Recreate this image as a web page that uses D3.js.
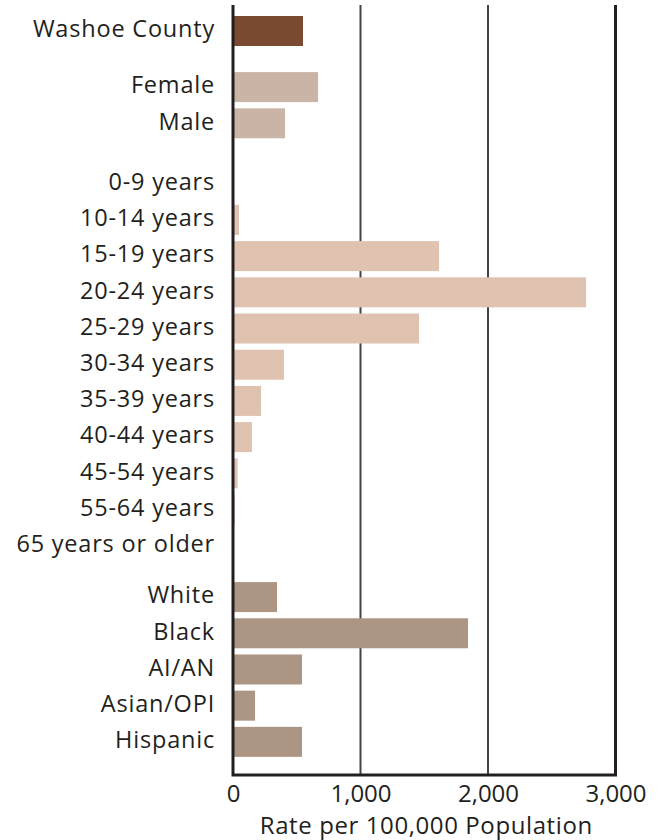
<!DOCTYPE html>
<html>
<head>
<meta charset="utf-8">
<script src="https://d3js.org/d3.v7.min.js"></script>
<style>
  body { margin: 0; background: #fff; }
  text { font-family: "Open Sans", "DejaVu Sans", sans-serif; fill: #231f20; }
</style>
</head>
<body>
<script>
// data
var groups = ["total", "sex", "age", "race"];
var categories = ["Washoe County",
  "Female", "Male",
  "0-9 years", "10-14 years", "15-19 years", "20-24 years", "25-29 years", "30-34 years",
  "35-39 years", "40-44 years", "45-54 years", "55-64 years", "65 years or older",
  "White", "Black", "AI/AN", "Asian/OPI", "Hispanic"];
var categoryGroup = ["total",
  "sex", "sex",
  "age", "age", "age", "age", "age", "age", "age", "age", "age", "age", "age",
  "race", "race", "race", "race", "race"];
var rates = [549,
  667, 408,
  0, 47, 1616, 2769, 1459, 400, 220, 149, 36, 14, 0,
  345, 1843, 541, 173, 541];
var xTicks = [0, 1000, 2000, 3000];
var xTitle = "Rate per 100,000 Population";

var groupColor = { total: "#7a4a32", sex: "#cab4a6", age: "#e0c2b1", race: "#ad9584" };
// extra vertical space before each group (in row units)
var groupGap = { total: 0, sex: 0.55, age: 0.67, race: 0.42 };

var w = 672, h = 840;
var plotLeft = 233, plotRight = 615.5, plotTop = 5, plotBottom = 775;

var rows = [];
var gapSum = 0;
categories.forEach(function (c, i) {
  if (i > 0 && categoryGroup[i] !== categoryGroup[i - 1]) gapSum += groupGap[categoryGroup[i]];
  rows.push({ name: c, value: rates[i], group: categoryGroup[i], pos: i + gapSum });
});

var x = d3.scaleLinear().domain([0, 3000]).range([plotLeft, plotRight]);
var y = d3.scaleLinear().domain([-0.304, 20.97]).range([plotTop, plotBottom]);
var barH = 30 / 36.2;

var svg = d3.select("body").append("svg").attr("width", w).attr("height", h);

// gridlines
svg.append("g").selectAll("line")
  .data([1000, 2000])
  .enter().append("line")
  .attr("x1", function (d) { return x(d); })
  .attr("x2", function (d) { return x(d); })
  .attr("y1", plotTop).attr("y2", plotBottom)
  .attr("stroke", "#444").attr("stroke-width", 2);

// bars
svg.append("g").selectAll("rect")
  .data(rows)
  .enter().append("rect")
  .attr("x", x(0))
  .attr("y", function (d) { return y(d.pos); })
  .attr("width", function (d) { return x(d.value) - x(0); })
  .attr("height", function (d) { return y(d.pos + barH) - y(d.pos); })
  .attr("fill", function (d) { return groupColor[d.group]; });

// frame: left, bottom, right
svg.append("path")
  .attr("d", "M" + x(0) + "," + plotTop + "V" + plotBottom + "H" + x(3000) + "V" + plotTop)
  .attr("fill", "none").attr("stroke", "#231f20").attr("stroke-width", 3);

// category labels
svg.append("g").selectAll("text")
  .data(rows)
  .enter().append("text")
  .attr("x", 215)
  .attr("y", function (d) { return (y(d.pos) + y(d.pos + barH)) / 2 - 2; })
  .attr("dy", "0.35em")
  .attr("text-anchor", "end")
  .style("font-size", "23.5px")
  .style("letter-spacing", "0.8px")
  .text(function (d) { return d.name; });

// x axis tick labels
var xAxis = d3.axisBottom(x).tickValues(xTicks).tickSize(0).tickPadding(10)
  .tickFormat(d3.format(","));
var gx = svg.append("g").attr("transform", "translate(0," + plotBottom + ")").call(xAxis);
gx.select(".domain").remove();
gx.selectAll("text").style("font-size", "24px").attr("fill", "#231f20")
  .style("font-family", "'Open Sans', sans-serif");

svg.append("text")
  .attr("x", (plotLeft + plotRight) / 2 + 2)
  .attr("y", 834)
  .attr("text-anchor", "middle")
  .style("font-size", "24px")
  .style("letter-spacing", "0.6px")
  .text(xTitle);
</script>
</body>
</html>
